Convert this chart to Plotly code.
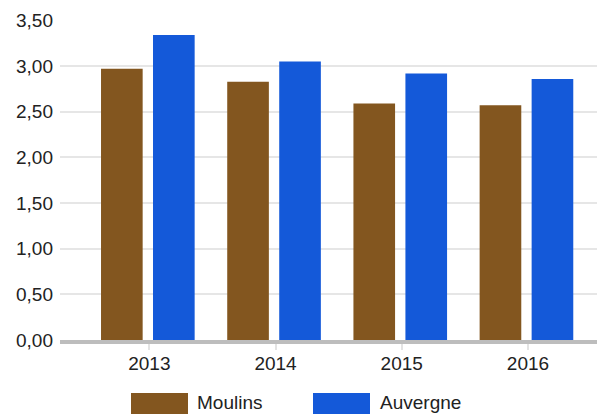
import plotly.graph_objects as go

years = ["2013", "2014", "2015", "2016"]
series_names = ["Moulins", "Auvergne"]
moulins = [2.97, 2.83, 2.59, 2.57]
auvergne = [3.34, 3.05, 2.92, 2.86]
series_values = [moulins, auvergne]
colors = ["#83561F", "#1459D9"]
offsets = [-0.383, 0.029]
bar_w = 0.330

W, H = 597, 414
L, R, T, B = 60, 0, 20, 74
pw, ph = W - L - R, H - T - B

def px_x(px):
    return (px - L) / pw

def px_y(py):
    return (H - B - py) / ph

fig = go.Figure()
for name, vals, col, off in zip(series_names, series_values, colors, offsets):
    fig.add_trace(go.Bar(x=years, y=vals, name=name, marker_color=col,
                         marker_line_width=0, offset=off, width=bar_w,
                         showlegend=False))

# custom legend (large swatches)
legend_pos = [(131, 188, 195), (313, 370, 378)]
for (x0, x1, tx), name, col in zip(legend_pos, series_names, colors):
    fig.add_shape(type="rect", xref="paper", yref="paper",
                  x0=px_x(x0), x1=px_x(x1), y0=px_y(393), y1=px_y(420),
                  fillcolor=col, line_width=0, layer="above")
    fig.add_annotation(xref="paper", yref="paper", x=px_x(tx), y=px_y(402),
                       text=name, showarrow=False, xanchor="left", yanchor="middle",
                       font=dict(size=19, color="#222222"))

fig.update_layout(
    width=W, height=H,
    margin=dict(l=L, r=R, t=T, b=B, pad=0),
    plot_bgcolor="white", paper_bgcolor="white",
    separators=", ",
    font=dict(family="Liberation Sans, Arial, sans-serif", size=19, color="#222222"),
    xaxis=dict(type="category", range=[-0.708, 3.547], showgrid=False,
               showline=True, linecolor="#BDBDBD", linewidth=4,
               ticks="outside", ticklen=6, tickwidth=2, tickcolor="#E3E3E3",
               ticklabelstandoff=-3,
               tickfont=dict(size=19, color="#222222")),
    yaxis=dict(range=[0, 3.505], dtick=0.5, tickformat=".2f",
               showgrid=True, gridcolor="#E6E6E6", gridwidth=2,
               zeroline=False, showline=False, ticks="",
               ticklabelstandoff=6,
               tickfont=dict(size=19, color="#222222")),
)

fig.write_html("out.html", config={"displayModeBar": False},
               post_script="document.body.style.margin='0';document.body.style.overflow='hidden';")
